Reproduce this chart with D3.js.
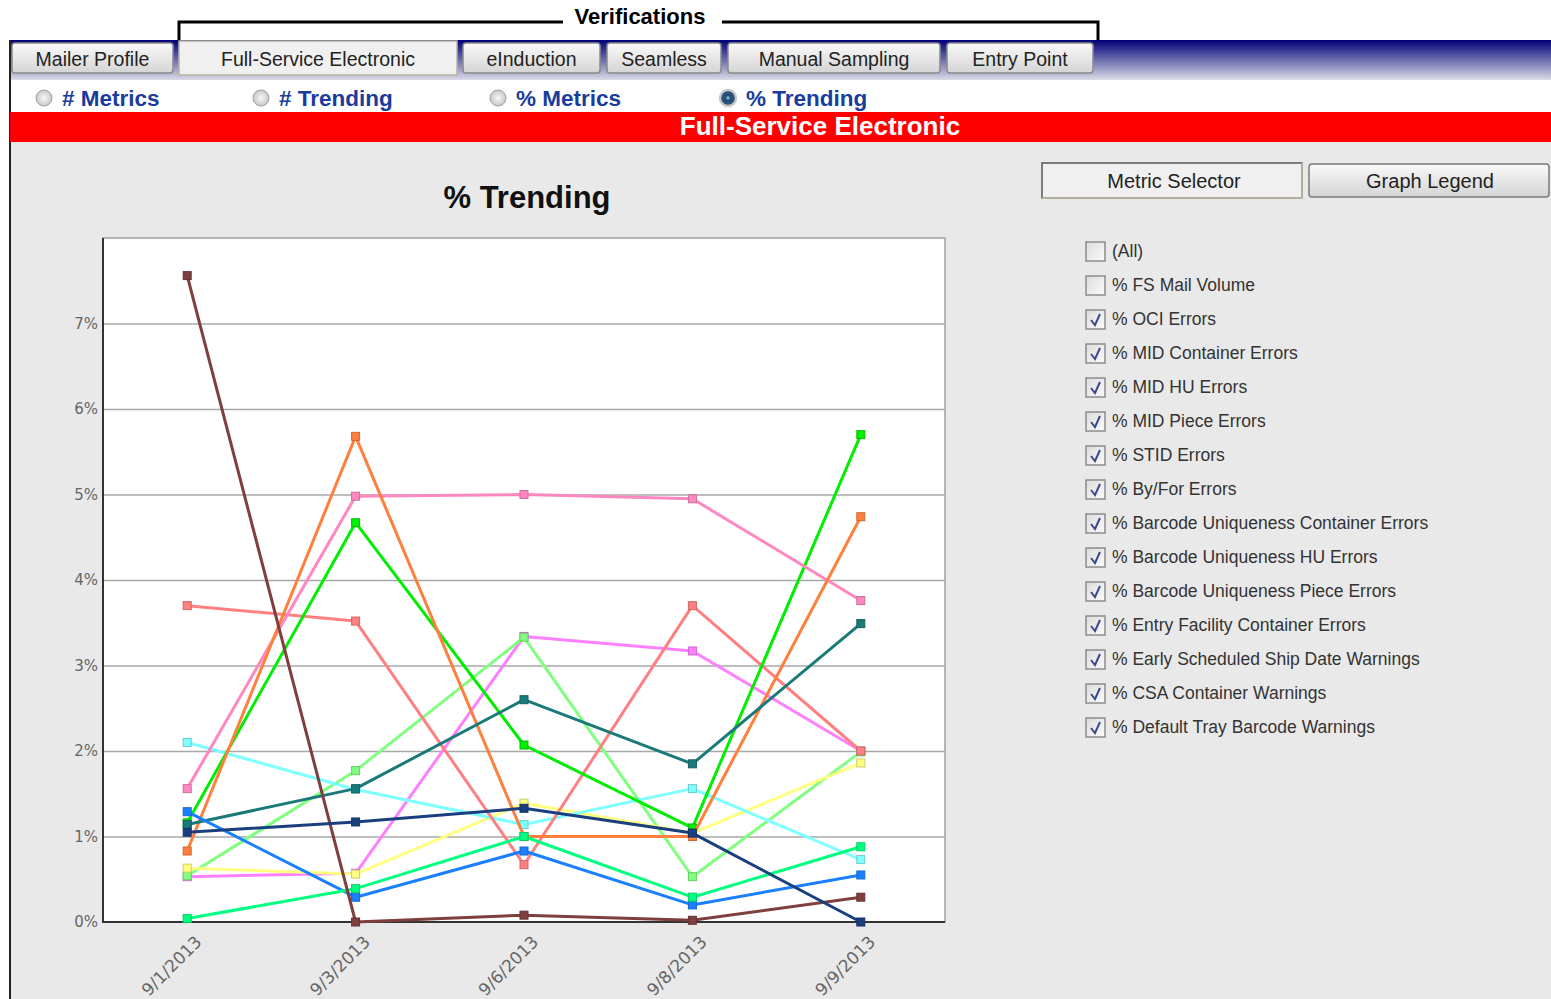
<!DOCTYPE html>
<html>
<head>
<meta charset="utf-8">
<script src="https://cdn.jsdelivr.net/npm/d3@7"></script>
<style>
  body { margin: 0; background: #fff; }
  svg { display: block; }
  .ui { font-family: Tahoma, 'Liberation Sans', 'DejaVu Sans', sans-serif; }
  .tick text { font-family: Tahoma, 'DejaVu Sans', sans-serif; fill: #666; font-size: 15px; }
  .xaxis .tick text { font-size: 17px; }
</style>
</head>
<body>
<div id="chart"></div>
<script>
// chart data
const dates = ['9/1/2013', '9/3/2013', '9/6/2013', '9/8/2013', '9/9/2013'];
const yTicks = [0, 1, 2, 3, 4, 5, 6, 7];

const tabs = ['Mailer Profile', 'Full-Service Electronic', 'eInduction', 'Seamless', 'Manual Sampling', 'Entry Point'];
const views = ['# Metrics', '# Trending', '% Metrics', '% Trending'];

const metrics = ['(All)', '% FS Mail Volume', '% OCI Errors', '% MID Container Errors', '% MID HU Errors',
  '% MID Piece Errors', '% STID Errors', '% By/For Errors', '% Barcode Uniqueness Container Errors',
  '% Barcode Uniqueness HU Errors', '% Barcode Uniqueness Piece Errors', '% Entry Facility Container Errors',
  '% Early Scheduled Ship Date Warnings', '% CSA Container Warnings', '% Default Tray Barcode Warnings'];
const checked = [false, false, true, true, true, true, true, true, true, true, true, true, true, true, true];

// one line per checked metric
const seriesNames = metrics.filter((m, i) => checked[i]);
const seriesColors = ['#ff80ff', '#80ff80', '#ffff80', '#80ffff', '#ff8080', '#00ee00', '#ff88c0',
  '#ff7f3f', '#1a7a7a', '#1a80ff', '#00ff80', '#7f3f3f', '#1a3f7f'];
const seriesValues = [
  [0.53, 0.57, 3.34, 3.17, 2.0],
  [0.54, 1.77, 3.33, 0.53, 1.99],
  [0.63, 0.56, 1.39, 1.04, 1.86],
  [2.1, 1.55, 1.14, 1.56, 0.73],
  [3.7, 3.52, 0.67, 3.7, 2.0],
  [1.16, 4.67, 2.07, 1.1, 5.7],
  [1.56, 4.98, 5.0, 4.95, 3.76],
  [0.83, 5.68, 1.0, 1.0, 4.74],
  [1.14, 1.56, 2.6, 1.85, 3.49],
  [1.29, 0.29, 0.83, 0.2, 0.55],
  [0.04, 0.39, 1.0, 0.29, 0.88],
  [7.56, 0.0, 0.08, 0.02, 0.29],
  [1.05, 1.17, 1.33, 1.04, 0.0]
];

const W = 1551, H = 999;
const svg = d3.select('#chart').append('svg')
  .attr('width', W).attr('height', H).attr('class', 'ui');

const defs = svg.append('defs');
const barGrad = defs.append('linearGradient').attr('id', 'barGrad').attr('x1', 0).attr('y1', 0).attr('x2', 0).attr('y2', 1);
barGrad.append('stop').attr('offset', '0%').attr('stop-color', '#000078');
barGrad.append('stop').attr('offset', '100%').attr('stop-color', '#dcdce6');
const btnGrad = defs.append('linearGradient').attr('id', 'btnGrad').attr('x1', 0).attr('y1', 0).attr('x2', 0).attr('y2', 1);
btnGrad.append('stop').attr('offset', '0%').attr('stop-color', '#fafafa');
btnGrad.append('stop').attr('offset', '100%').attr('stop-color', '#d4d4d4');
const boxGrad = defs.append('linearGradient').attr('id', 'boxGrad').attr('x1', 0).attr('y1', 0).attr('x2', 1).attr('y2', 1);
boxGrad.append('stop').attr('offset', '0%').attr('stop-color', '#dcdcdc');
boxGrad.append('stop').attr('offset', '100%').attr('stop-color', '#fbfbfb');
const radioGrad = defs.append('radialGradient').attr('id', 'radioGrad');
radioGrad.append('stop').attr('offset', '0%').attr('stop-color', '#f8f8f8');
radioGrad.append('stop').attr('offset', '100%').attr('stop-color', '#c8c8c8');
const radioSel = defs.append('radialGradient').attr('id', 'radioSel');
radioSel.append('stop').attr('offset', '0%').attr('stop-color', '#9ed0f0');
radioSel.append('stop').attr('offset', '60%').attr('stop-color', '#2a5a8a');
radioSel.append('stop').attr('offset', '100%').attr('stop-color', '#1a3050');

// page frame
svg.append('rect').attr('x', 10).attr('y', 40).attr('width', W - 10).attr('height', 40).attr('fill', 'url(#barGrad)');
svg.append('rect').attr('x', 10).attr('y', 142).attr('width', W - 10).attr('height', H - 142).attr('fill', '#e9e9e9');
svg.append('line').attr('x1', 10).attr('x2', 10).attr('y1', 40).attr('y2', H).attr('stroke', '#222').attr('stroke-width', 2);

// Verifications bracket
svg.append('path')
  .attr('d', 'M179,40V22H563M722,22H1098V40')
  .attr('fill', 'none').attr('stroke', '#000').attr('stroke-width', 3);
svg.append('text').attr('x', 640).attr('y', 24).attr('text-anchor', 'middle')
  .attr('font-weight', 'bold').attr('font-size', 22).attr('fill', '#000').text('Verifications');

// tabs
const tabX = [12, 179, 463, 607, 728, 947];
const tabW = [161, 278, 137, 114, 212, 146];
const tabG = svg.selectAll('g.tab').data(tabs).enter().append('g').attr('class', 'tab');
tabG.append('rect')
  .attr('x', (d, i) => tabX[i]).attr('y', (d, i) => i === 1 ? 41 : 43)
  .attr('width', (d, i) => tabW[i]).attr('height', (d, i) => i === 1 ? 34 : 30)
  .attr('rx', (d, i) => i === 1 ? 0 : 3)
  .attr('fill', (d, i) => i === 1 ? '#f0f0f0' : 'url(#btnGrad)')
  .attr('stroke', (d, i) => i === 1 ? '#b8b4a0' : '#8a8a8a').attr('stroke-width', 1.5);
tabG.append('text')
  .attr('x', (d, i) => tabX[i] + tabW[i] / 2).attr('y', 66)
  .attr('text-anchor', 'middle').attr('font-size', 19.5).attr('fill', '#222')
  .text(d => d);

// view radios
const radioX = [44, 261, 498, 728];
const radioG = svg.selectAll('g.radio').data(views).enter().append('g').attr('class', 'radio');
radioG.append('circle')
  .attr('cx', (d, i) => radioX[i]).attr('cy', 98).attr('r', 8)
  .attr('fill', (d, i) => i === 3 ? 'url(#radioSel)' : 'url(#radioGrad)')
  .attr('stroke', '#a0a0a0');
radioG.filter((d, i) => i === 3).append('circle')
  .attr('cx', radioX[3]).attr('cy', 98).attr('r', 8).attr('fill', 'none').attr('stroke', '#c8c8c8').attr('stroke-width', 2.5);
radioG.filter((d, i) => i === 3).append('circle')
  .attr('cx', radioX[3]).attr('cy', 98).attr('r', 4).attr('fill', 'url(#radioSel)');
radioG.append('text')
  .attr('x', (d, i) => radioX[i] + 18).attr('y', 106)
  .attr('font-size', 22.5).attr('font-weight', 'bold').attr('fill', '#1a3c9c')
  .text(d => d);

// red banner
svg.append('rect').attr('x', 10).attr('y', 112).attr('width', W - 10).attr('height', 30).attr('fill', '#ff0000');
svg.append('text').attr('x', 820).attr('y', 135).attr('text-anchor', 'middle')
  .attr('font-family', "Arial, 'Liberation Sans', sans-serif")
  .attr('font-weight', 'bold').attr('font-size', 26).attr('fill', '#fff').text('Full-Service Electronic');

// chart
const pLeft = 103, pRight = 945, pTop = 238, pBottom = 922;
const x = d3.scalePoint().domain(dates).range([pLeft, pRight]).padding(0.5);
const y = d3.scaleLinear().domain([0, 8]).range([pBottom, pTop]);

svg.append('text').attr('x', 527).attr('y', 208).attr('text-anchor', 'middle')
  .attr('font-weight', 'bold').attr('font-size', 31).attr('fill', '#111').text('% Trending');

svg.append('rect').attr('x', pLeft).attr('y', pTop).attr('width', pRight - pLeft).attr('height', pBottom - pTop)
  .attr('fill', '#fff').attr('stroke', '#a0a0a0').attr('stroke-width', 1.5);

// gridlines
svg.append('g')
  .attr('transform', `translate(${pLeft},0)`)
  .call(d3.axisLeft(y).tickValues(yTicks.slice(1)).tickSize(-(pRight - pLeft)).tickFormat(''))
  .call(g => g.select('.domain').remove())
  .call(g => g.selectAll('line').attr('stroke', '#a8a8a8').attr('stroke-width', 1.5));

// y axis labels
svg.append('g')
  .attr('transform', `translate(${pLeft},0)`)
  .call(d3.axisLeft(y).tickValues(yTicks).tickSize(0).tickPadding(5).tickFormat(d => d + '%'))
  .call(g => g.select('.domain').remove());

// x axis labels
svg.append('g')
  .attr('class', 'xaxis')
  .attr('transform', `translate(0,${pBottom})`)
  .call(d3.axisBottom(x).tickSize(0).tickPadding(0))
  .call(g => g.select('.domain').remove())
  .call(g => g.selectAll('text')
    .attr('text-anchor', 'end').attr('dy', 0).attr('y', 0)
    .attr('transform', 'translate(15,21) rotate(-45)'));

// left and bottom axis lines
svg.append('path').attr('d', `M${pLeft},${pTop}V${pBottom}H${pRight}`)
  .attr('fill', 'none').attr('stroke', '#333').attr('stroke-width', 2);

const line = d3.line().x((d, i) => x(dates[i])).y(d => y(d));

const series = svg.selectAll('g.series').data(seriesValues).enter().append('g').attr('class', 'series');
series.append('path')
  .attr('d', d => line(d))
  .attr('fill', 'none')
  .attr('stroke', (d, i) => seriesColors[i])
  .attr('stroke-width', 3)
  .attr('stroke-linejoin', 'round');
series.each(function (vals, si) {
  d3.select(this).selectAll('rect').data(vals).enter().append('rect')
    .attr('x', (d, i) => x(dates[i]) - 4).attr('y', d => y(d) - 4)
    .attr('width', 8).attr('height', 8)
    .attr('fill', seriesColors[si])
    .attr('stroke', d3.color(seriesColors[si]).darker(0.6)).attr('stroke-width', 1);
});

// side buttons
svg.append('rect').attr('x', 1042).attr('y', 163).attr('width', 260).attr('height', 35)
  .attr('fill', '#f0f0f0').attr('stroke', '#555').attr('stroke-width', 1.5);
svg.append('path').attr('d', 'M1042,198H1302V163').attr('fill', 'none').attr('stroke', '#c8c0a8').attr('stroke-width', 1.5);
svg.append('text').attr('x', 1174).attr('y', 188).attr('text-anchor', 'middle')
  .attr('font-size', 20).attr('fill', '#222').text('Metric Selector');
svg.append('rect').attr('x', 1309).attr('y', 164).attr('width', 240).attr('height', 33).attr('rx', 3)
  .attr('fill', 'url(#btnGrad)').attr('stroke', '#7a7a7a').attr('stroke-width', 1.5);
svg.append('text').attr('x', 1430).attr('y', 188).attr('text-anchor', 'middle')
  .attr('font-size', 20).attr('fill', '#222').text('Graph Legend');

// metric checklist
const item = svg.selectAll('g.item').data(metrics).enter().append('g').attr('class', 'item')
  .attr('transform', (d, i) => `translate(1086,${242 + i * 34})`);
item.append('rect').attr('x', 0).attr('y', 0).attr('width', 19).attr('height', 19)
  .attr('fill', 'url(#boxGrad)').attr('stroke', '#8c8c8c').attr('stroke-width', 1.5);
item.filter((d, i) => checked[i]).append('path')
  .attr('d', 'M5,10 L9,15 L14,4')
  .attr('fill', 'none').attr('stroke', '#3a4a90').attr('stroke-width', 2);
item.append('text').attr('x', 26).attr('y', 15)
  .attr('font-size', 17.5).attr('fill', '#333').text(d => d);
</script>
</body>
</html>
